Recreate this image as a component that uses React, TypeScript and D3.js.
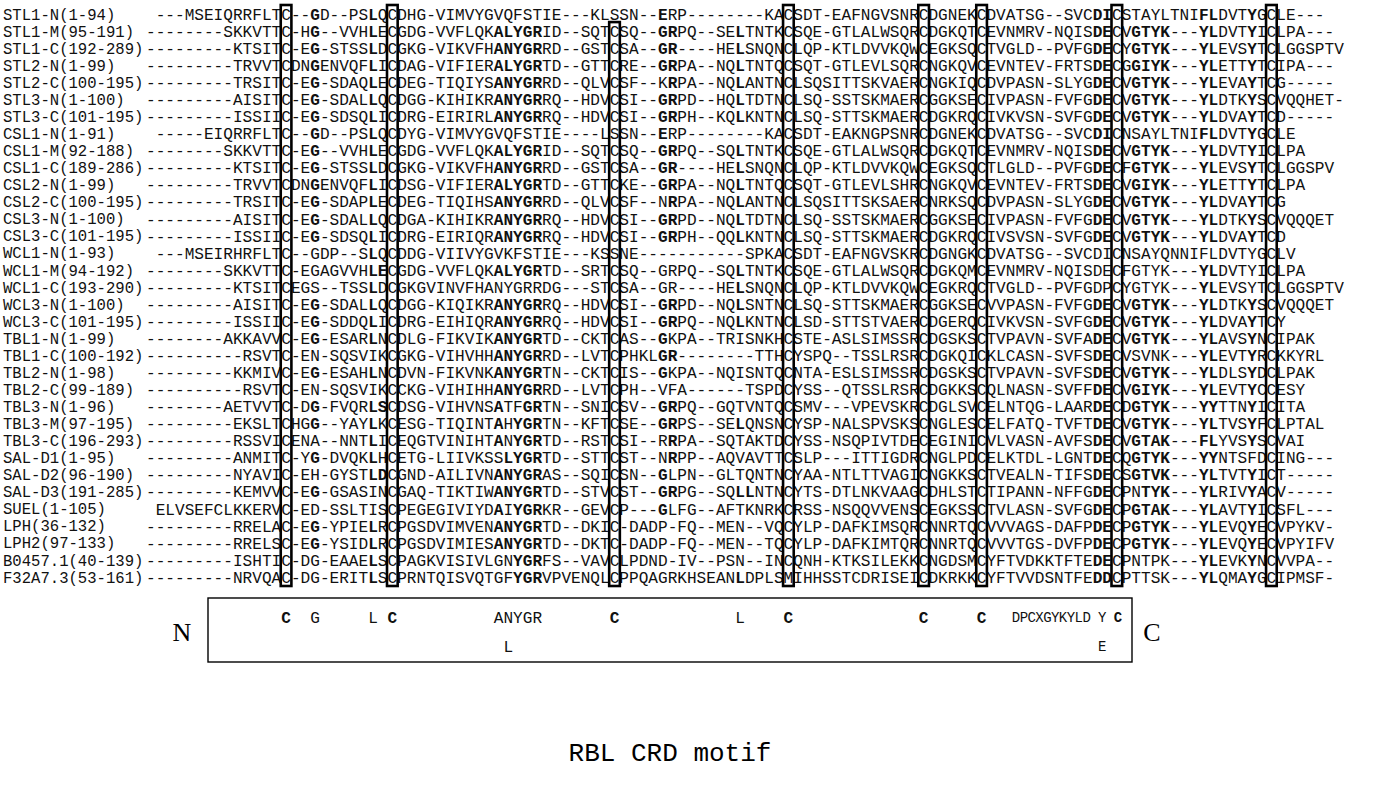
import React from 'react';
import * as d3 from 'd3';

// sequence names, top to bottom
const names = [
  'STL1-N(1-94)', 'STL1-M(95-191)', 'STL1-C(192-289)', 'STL2-N(1-99)', 'STL2-C(100-195)',
  'STL3-N(1-100)', 'STL3-C(101-195)', 'CSL1-N(1-91)', 'CSL1-M(92-188)', 'CSL1-C(189-286)',
  'CSL2-N(1-99)', 'CSL2-C(100-195)', 'CSL3-N(1-100)', 'CSL3-C(101-195)', 'WCL1-N(1-93)',
  'WCL1-M(94-192)', 'WCL1-C(193-290)', 'WCL3-N(1-100)', 'WCL3-C(101-195)', 'TBL1-N(1-99)',
  'TBL1-C(100-192)', 'TBL2-N(1-98)', 'TBL2-C(99-189)', 'TBL3-N(1-96)', 'TBL3-M(97-195)',
  'TBL3-C(196-293)', 'SAL-D1(1-95)', 'SAL-D2(96-190)', 'SAL-D3(191-285)', 'SUEL(1-105)',
  'LPH(36-132)', 'LPH2(97-133)', 'B0457.1(40-139)', 'F32A7.3(53-161)'
];

// aligned sequences: segments split by the 8 boxed columns, {..} = bold residues
const sequences = [
  ' ---MSEIQRRFLT|C|--{G}D--PS{L}Q|C|DHG-VIMVYGVQFSTIE---KL|S|SN--{E}RP--------KA|C|SDT-EAFNGVSNR|C|DGNEK|C|DVATSG--SVC{DI}|C|STAYLTNI{FL}DVT{Y}G|C|LE---',
  '--------SKKVTT|C|-H{G}--VVH{L}E|C|GDG-VVFLQK{ALYGR}ID--SQT|C|SQ--{GR}PQ--SE{L}TNTK|C|SQE-GTLALWSQR|C|DGKQT|C|EVNMRV-NQIS{DE}|C|V{GTYK}---{YL}DVT{Y}I|C|LPA---',
  '---------KTSIT|C|-E{G}-STSS{L}D|C|GKG-VIKVFH{ANYGR}RD--GST|C|SA--{GR}----HE{L}SNQN|C|LQP-KTLDVVKQW|C|EGKSQ|C|TVGLD--PVFG{DE}|C|Y{GTYK}---{YL}EVS{Y}T|C|LGGSPTV',
  '---------TRVVT|C|DN{G}ENVQF{L}I|C|DAG-VIFIER{ALYGR}TD--GTT|C|RE--{GR}PA--NQ{L}TNTQ|C|SQT-GTLEVLSQR|C|NGKQV|C|EVNTEV-FRTS{DE}|C|G{GIYK}---{YL}ETT{Y}T|C|IPA---',
  '---------TRSIT|C|-E{G}-SDAQ{L}E|C|DEG-TIQIYS{ANYGR}RD--QLV|C|SF--K{R}PA--NQ{L}ANTN|C|LSQSITTSKVAER|C|NGKIQ|C|DVPASN-SLYG{DE}|C|V{GTYK}---{YL}EVA{Y}T|C|G-----',
  '---------AISIT|C|-E{G}-SDAL{L}Q|C|DGG-KIHIKR{ANYGR}RQ--HDV|C|SI--{GR}PD--HQ{L}TDTN|C|LSQ-SSTSKMAER|C|GGKSE|C|IVPASN-FVFG{DE}|C|V{GTYK}---{YL}DTK{Y}S|C|VQQHET-',
  '---------ISSII|C|-E{G}-SDSQ{L}I|C|DRG-EIRIRL{ANYGR}RQ--HDV|C|SI--{GR}PH--KQ{L}KNTN|C|LSQ-STTSKMAER|C|DGKRQ|C|IVKVSN-SVFG{DE}|C|V{GTYK}---{YL}DVA{Y}T|C|D-----',
  ' -----EIQRRFLT|C|--{G}D--PS{L}Q|C|DYG-VIMVYGVQFSTIE----L|S|SN--{E}RP--------KA|C|SDT-EAKNGPSNR|C|DGNEK|C|DVATSG--SVC{DI}|C|NSAYLTNI{FL}DVT{Y}G|C|LE',
  '--------SKKVTT|C|-E{G}--VVH{L}E|C|GDG-VVFLQK{ALYGR}ID--SQT|C|SQ--{GR}PQ--SQ{L}TNTK|C|SQE-GTLALWSQR|C|DGKQT|C|EVNMRV-NQIS{DE}|C|V{GTYK}---{YL}DVT{Y}I|C|LPA',
  '---------KTSIT|C|-E{G}-STSS{L}D|C|GKG-VIKVFH{ANYGR}RD--GST|C|SA--{GR}----HE{L}SNQN|C|LQP-KTLDVVKQW|C|EGKSQ|C|TLGLD--PVFG{DE}|C|F{GTYK}---{YL}EVS{Y}T|C|LGGSPV',
  '---------TRVVT|C|DN{G}ENVQF{L}I|C|DSG-VIFIER{ALYGR}TD--GTT|C|KE--{GR}PA--NQ{L}TNTQ|C|SQT-GTLEVLSHR|C|NGKQV|C|EVNTEV-FRTS{DE}|C|V{GIYK}---{YL}ETT{Y}T|C|LPA',
  '---------TRSIT|C|-E{G}-SDAP{L}E|C|DEG-TIQIHS{ANYGR}RD--QLV|C|SF--N{R}PA--NQ{L}ANTN|C|LSQSITTSKSAER|C|NRKSQ|C|DVPASN-SLYG{DE}|C|V{GTYK}---{YL}DVA{Y}T|C|G',
  '---------AISIT|C|-E{G}-SDAL{L}Q|C|DGA-KIHIKR{ANYGR}RQ--HDV|C|SI--{GR}PD--NQ{L}TDTN|C|LSQ-SSTSKMAER|C|GGKSE|C|IVPASN-FVFG{DE}|C|V{GTYK}---{YL}DTK{Y}S|C|VQQQET',
  '---------ISSII|C|-E{G}-SDSQ{L}I|C|DRG-EIRIQR{ANYGR}RQ--HDV|C|SI--{GR}PH--QQ{L}KNTN|C|LSQ-STTSKMAER|C|DGKRQ|C|IVSVSN-SVFG{DE}|C|V{GTYK}---{YL}DVA{Y}T|C|D',
  ' ---MSEIRHRFLT|C|--GDP--S{L}Q|C|DDG-VIIVYGVKFSTIE---KS|S|NE-----------SPKA|C|SDT-EAFNGVSKR|C|DGNGK|C|DVATSG--SVCDI|C|NSAYQNNIFLDVTYG|C|LV',
  '--------SKKVTT|C|-EGAGVVH{LE}|C|GDG-VVFLQK{ALYGR}TD--SRT|C|SQ--GRPQ--SQ{L}TNTK|C|SQE-GTLALWSQR|C|DGKQM|C|EVNMRV-NQISDE|C|FGTYK---{YL}DVTYI|C|LPA',
  '---------KTSIT|C|EGS--TSS{L}D|C|GKGVINVFHANYGRRDG---ST|C|SA--GR----HE{L}SNQN|C|LQP-KTLDVVKQW|C|EGKRQ|C|TVGLD--PVFGDP|C|YGTYK---{YL}EVSYT|C|LGGSPTV',
  '---------AISIT|C|-E{G}-SDAL{L}Q|C|DGG-KIQIKR{ANYGR}RQ--HDV|C|SI--{GR}PD--NQ{L}SNTN|C|LSQ-STTSKMAER|C|GGKSE|C|VVPASN-FVFG{DE}|C|V{GTYK}---{YL}DTK{Y}S|C|VQQQET',
  '---------ISSII|C|-E{G}-SDDQ{L}I|C|DRG-EIHIQR{ANYGR}RQ--HDV|C|SI--{GR}PQ--NQ{L}KNTN|C|LSD-STTSTVAER|C|DGERQ|C|IVKVSN-SVFG{DE}|C|V{GTYK}---{YL}DVA{Y}T|C|Y',
  '--------AKKAVV|C|-E{G}-ESAR{L}N|C|DLG-FIKVIK{ANYGR}TD--CKT|C|AS--{G}KPA--TRISNKH|C|STE-ASLSIMSSR|C|DGSKS|C|TVPAVN-SVFA{DE}|C|V{GTYK}---{YL}AVS{Y}N|C|IPAK',
  '----------RSVT|C|-EN-SQSVIK|C|GKG-VIHVHH{ANYGR}RD--LVT|C|PHKL{GR}--------TTH|C|YSPQ--TSSLRSR|C|DGKQI|C|KLCASN-SVFS{DE}|C|VSVNK---{YL}EVT{Y}R|C|KKYRL',
  '---------KKMIV|C|-E{G}-ESAH{L}N|C|DVN-FIKVNK{ANYGR}TN--CKT|C|IS--{G}KPA--NQISNTQ|C|NTA-ESLSIMSSR|C|DGSKS|C|TVPAVN-SVFS{DE}|C|V{GTYK}---{YL}DLS{Y}D|C|LPAK',
  '----------RSVT|C|-EN-SQSVIK|C|CKG-VIHIHH{ANYGR}RD--LVT|C|PH--VFA------TSPD|C|YSS--QTSSLRSR|C|DGKKS|C|QLNASN-SVFF{DE}|C|V{GIYK}---{YL}EVT{Y}C|C|ESY',
  '--------AETVVT|C|-D{G}-FVQR{LS}|C|DSG-VIHVNS{A}TF{GR}TN--SNI|C|SV--{GR}PQ--GQTVNTQ|C|SMV---VPEVSKR|C|DGLSV|C|ELNTQG-LAAR{DE}|C|D{GTYK}---{YY}TTN{Y}I|C|ITA',
  '---------EKSLT|C|HG{G}--YAY{L}K|C|ESG-TIQINT{A}H{YGR}TN--KFT|C|SE--{GR}PS--SE{L}QNSN|C|YSP-NALSPVSKS|C|NGLES|C|ELFATQ-TVFT{DE}|C|V{GTYK}---{YL}TVS{Y}F|C|LPTAL',
  '---------RSSVI|C|ENA--NNT{L}I|C|EQGTVINIHT{A}N{YGR}TD--RST|C|SI--R{R}PA--SQTAKTD|C|YSS-NSQPIVTDE|C|EGINI|C|VLVASN-AVFS{DE}|C|V{GTAK}---{FL}YVS{Y}S|C|VAI',
  '---------ANMIT|C|-Y{G}-DVQK{L}H|C|ETG-LIIVKSS{LYGR}TD--STT|C|ST--N{R}PP--AQVAVTT|C|SLP---ITTIGDR|C|NGLPD|C|ELKTDL-LGNT{DE}|C|Q{GTYK}---{YY}NTSFD|C|ING---',
  '---------NYAVI|C|-EH-GYST{LD}|C|GND-AILIVN{ANYGR}AS--SQI|C|SN--{G}LPN--GLTQNTN|C|YAA-NTLTTVAGI|C|NGKKS|C|TVEALN-TIFS{DE}|C|S{GTVK}---{YL}TVT{Y}I|C|T-----',
  '---------KEMVV|C|-E{G}-GSASIN|C|GAQ-TIKTIW{ANYGR}TD--STV|C|ST--{GR}PG--SQ{LL}NTN|C|YTS-DTLNKVAAG|C|DHLST|C|TIPANN-NFFG{DE}|C|PN{TYK}---{YL}RIV{Y}A|C|V-----',
  ' ELVSEFCLKKERV|C|-ED-SSLTIS|C|PEGEGIVIYD{A}I{YGR}KR--GEV|C|P---{G}LFG--AFTKNRK|C|RSS-NSQQVVENS|C|EGKSS|C|TVLASN-SVFG{DE}|C|P{GTAK}---{YL}AVT{Y}I|C|SFL---',
  '---------RRELA|C|-E{G}-YPIE{L}R|C|PGSDVIMVEN{ANYGR}TD--DKI|C|-DADP-FQ--MEN--VQ|C|YLP-DAFKIMSQR|C|NNRTQ|C|VVVAGS-DAFP{DE}|C|P{GTYK}---{YL}EVQ{Y}E|C|VPYKV-',
  '---------RRELS|C|-E{G}-YSID{L}R|C|PGSDVIMIES{ANYGR}TD--DKT|C|-DADP-FQ--MEN--TQ|C|YLP-DAFKIMTQR|C|NNRTQ|C|VVVTGS-DVFP{DE}|C|P{GTYK}---{YL}EVQ{Y}E|C|VPYIFV',
  '---------ISHTI|C|-DG-EAAE{L}S|C|PAGKVISIVLGN{YGR}FS--VAV|C|LPDND-IV--PSN--IN|C|QNH-KTKSILEKK|C|NGDSM|C|YFTVDKKTFTE{DE}|C|PNTPK---{YL}EVK{Y}N|C|VVPA--',
  '---------NRVQA|C|-DG-ERIT{L}S|C|PRNTQISVQTGF{YGR}VPVENQL|C|PPQAGRKHSEAN{L}DPLS|M|IHHSSTCDRISEI|C|DKRKK|C|YFTVVDSNTFE{DD}|C|PTTSK---{YL}QMA{Y}G|C|IPMSF-'
];

// alignment columns of the boxed (conserved) residues, and first row of each box
const boxColumns = [14, 25, 48, 66, 80, 86, 100, 116];
const boxFirstRow = [0, 0, 1, 0, 0, 0, 0, 0];

// consensus motif (column of first letter)
const motifTop = [
  { text: 'C', col: 14, bold: true }, { text: 'G', col: 17, bold: false },
  { text: 'L', col: 23, bold: false }, { text: 'C', col: 25, bold: true },
  { text: 'ANYGR', col: 36, bold: false }, { text: 'C', col: 48, bold: true },
  { text: 'L', col: 61, bold: false }, { text: 'C', col: 66, bold: true },
  { text: 'C', col: 80, bold: true }, { text: 'C', col: 86, bold: true }
];
const motifTail = ['D', 'P', 'C', 'X', 'G', 'Y', 'K', 'Y', 'L', 'D', ' ', 'Y', ' ', 'C'];
const motifBottom = [{ text: 'L', col: 37 }];
const motifTailAlt = { text: 'E', under: 11 };

type Cell = { col: number; ch: string; bold: boolean };

function parseSeg(seg: string) {
  const out: { ch: string; bold: boolean }[] = [];
  let bold = false;
  for (const ch of seg) {
    if (ch === '{') bold = true;
    else if (ch === '}') bold = false;
    else out.push({ ch, bold });
  }
  return out;
}

function rowCells(s: string): Cell[] {
  const parts = s.split('|');
  const cells: Cell[] = [];
  boxColumns.forEach((bc, k) => {
    const seg = parseSeg(parts[2 * k]);
    seg.forEach((c, i) => cells.push({ col: bc - seg.length + i, ...c }));
    cells.push({ col: bc, ch: parts[2 * k + 1], bold: false });
  });
  parseSeg(parts[16] || '').forEach((c, i) => cells.push({ col: boxColumns[7] + 1 + i, ...c }));
  return cells.filter(c => c.ch !== ' ');
}

function runs(cells: Cell[]) {
  const r: Cell[][] = [];
  cells.forEach(c => {
    const last = r[r.length - 1];
    if (last && last[0].bold === c.bold) last.push(c);
    else r.push([c]);
  });
  return r;
}

const W = 1381, H = 791;
const cw = 9.66;
const x = d3.scaleLinear().domain([0, 1]).range([146, 146 + cw]);
const y = d3.scalePoint<number>().domain(d3.range(names.length)).range([14, 577]);
// compressed spacing for the C-terminal part of the consensus
const xTail = d3.scaleLinear().domain([0, motifTail.length - 1]).range([1016, 1118]);
const mono = '"Liberation Mono", "DejaVu Sans Mono", monospace';

export default function App() {
  const half = 9;
  const lastY = y(names.length - 1)!;
  return (
    <svg width={W} height={H} style={{ display: 'block', position: 'absolute', left: 0, top: 0, background: '#fff' }}>
      <rect width={W} height={H} fill="#fff" />
      <g fontFamily={mono} fontSize={16.1} fill="#111">
        {names.map((n, i) => (
          <text key={'n' + i} x={3} y={y(i)} dy="0.36em" fontSize={15.6}>{n}</text>
        ))}
        {sequences.map((s, i) => (
          <text key={'s' + i} y={y(i)} dy="0.36em">
            {runs(rowCells(s)).map((run, j) => (
              <tspan key={j} x={run.map(c => x(c.col)).join(' ')} fontWeight={run[0].bold ? 'bold' : 'normal'}>
                {run.map(c => c.ch).join('')}
              </tspan>
            ))}
          </text>
        ))}
      </g>
      <g fill="none" stroke="#000" strokeWidth={2.6}>
        {boxColumns.map((bc, k) => (
          <rect key={'b' + k} x={x(bc) - 0.5} width={cw + 1}
            y={y(boxFirstRow[k])! - half} height={lastY + half - (y(boxFirstRow[k])! - half)} />
        ))}
      </g>
      <g>
        <rect x={208} y={598} width={924} height={64} fill="none" stroke="#000" strokeWidth={1.4} />
        <text x={182} y={632} dy="0.36em" fontFamily='"Liberation Serif", serif' fontSize={26} textAnchor="middle">N</text>
        <text x={1152} y={632} dy="0.36em" fontFamily='"Liberation Serif", serif' fontSize={26} textAnchor="middle">C</text>
        <g fontFamily={mono} fontSize={16.1} fill="#111">
          {motifTop.map((m, i) => (
            <text key={'m' + i} x={x(m.col)} y={617} dy="0.36em" fontWeight={m.bold ? 'bold' : 'normal'}>{m.text}</text>
          ))}
          <text y={617} dy="0.36em" fontSize={14} textAnchor="middle">
            {motifTail.map((ch, i) => ch === ' ' ? null : (
              <tspan key={i} x={xTail(i)} fontWeight={i === motifTail.length - 1 ? 'bold' : 'normal'}>{ch}</tspan>
            ))}
          </text>
          {motifBottom.map((m, i) => (
            <text key={'mb' + i} x={x(m.col)} y={646} dy="0.36em">{m.text}</text>
          ))}
          <text x={xTail(motifTailAlt.under)} y={646} dy="0.36em" fontSize={14} textAnchor="middle">{motifTailAlt.text}</text>
        </g>
        <text x={670} y={752} dy="0.36em" fontFamily={mono} fontSize={26} textAnchor="middle">RBL CRD motif</text>
      </g>
    </svg>
  );
}
